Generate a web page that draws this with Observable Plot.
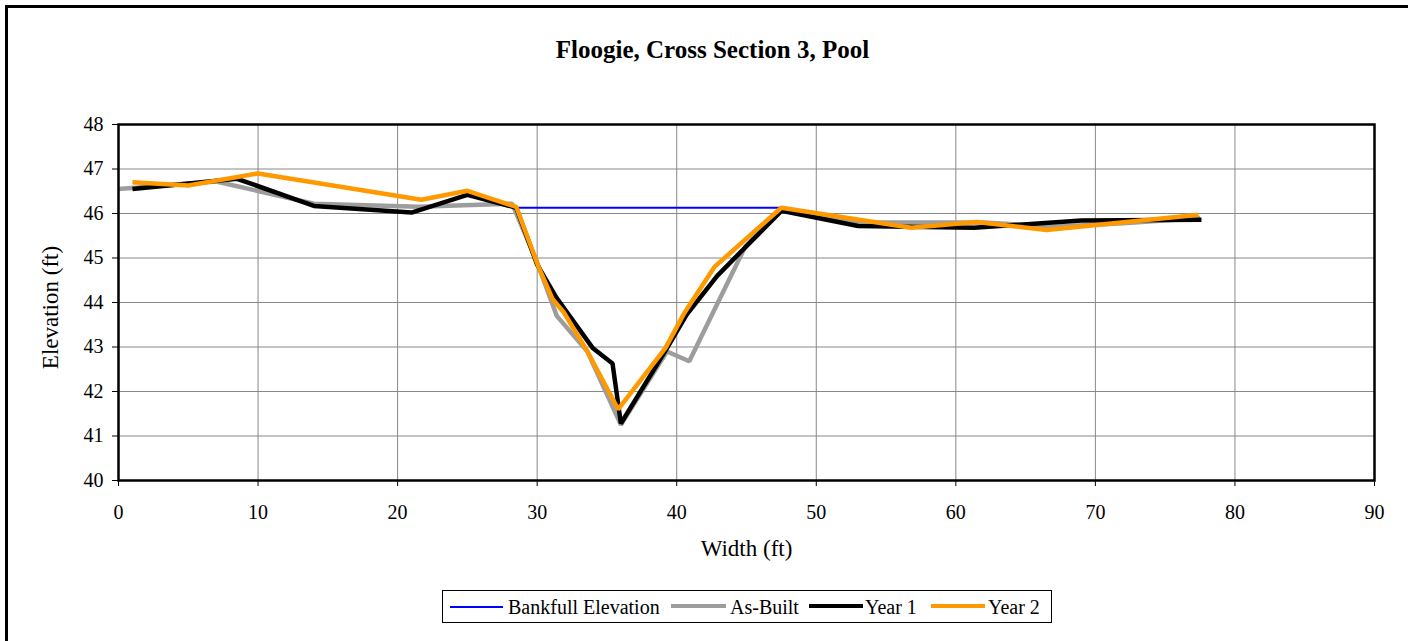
<!DOCTYPE html>
<html>
<head>
<meta charset="utf-8">
<script src="https://cdn.jsdelivr.net/npm/d3@7"></script>
<script src="https://cdn.jsdelivr.net/npm/@observablehq/plot@0.6"></script>
<style>
  html, body { margin: 0; padding: 0; background: #fff; overflow: hidden; width: 1408px; height: 641px; }
  #wrap { position: relative; width: 1408px; height: 641px; overflow: hidden;
          font-family: "Liberation Serif", "Times New Roman", serif; color: #000; background: #fff; }
  #border { position: absolute; left: 5px; top: 5px; width: 1403px; height: 636px;
            border-style: solid; border-color: #000; border-width: 3px 0 0 3px; box-sizing: border-box; }
  #cover { position: absolute; left: 1396px; top: 9px; width: 12px; height: 632px; background: #fff; z-index: 5; }
  #chart { position: absolute; left: 0; top: 0; }
  #title { position: absolute; left: 0; width: 1425px; top: 37px; text-align: center;
           font-weight: bold; font-size: 25px; line-height: 25px; white-space: nowrap; }
  #legend { position: absolute; left: 442px; top: 590px; width: 610px; height: 33px;
            border: 1.5px solid #000; box-sizing: border-box; background: #fff; }
  .sw { position: absolute; height: 0; }
  .lt { position: absolute; font-size: 20px; line-height: 20px; white-space: nowrap; }
</style>
</head>
<body>
<div id="wrap">
  <div id="border"></div>
  <div id="chart"></div>
  <div id="title"></div>
  <div id="legend"></div>
  <div id="cover"></div>
</div>
<script>
// ---- Data ----
const chartTitle = "Floogie, Cross Section 3, Pool";
const xLabel = "Width (ft)";
const yLabel = "Elevation (ft)";
const xTicks = [0, 10, 20, 30, 40, 50, 60, 70, 80, 90];
const yTicks = [40, 41, 42, 43, 44, 45, 46, 47, 48];

const seriesNames = ["Bankfull Elevation", "As-Built", "Year 1", "Year 2"];
const seriesColors = ["#0000ff", "#9d9d9d", "#000000", "#ff9900"];
const seriesWidths = [2, 4.5, 4.5, 4.5];

const bankfullX = [28.6, 47.4];
const bankfullY = [46.13, 46.13];

const asBuiltX = [0, 7, 14, 21.5, 28.2, 30, 31.4, 33.6, 36, 39.3, 40.9, 44.9, 47.5, 53, 57, 62, 67, 72, 77.5];
const asBuiltY = [46.55, 46.72, 46.22, 46.15, 46.22, 44.9, 43.7, 42.9, 41.25, 42.9, 42.68, 45.25, 46.1, 45.8, 45.8, 45.8, 45.7, 45.78, 45.9];

const year1X = [1, 8.5, 14, 21, 25, 28.5, 30, 31.4, 34, 35.4, 36, 39.2, 40.7, 42.9, 47.5, 53, 61.3, 69, 77.6];
const year1Y = [46.55, 46.78, 46.17, 46.02, 46.42, 46.13, 44.85, 44.1, 42.97, 42.63, 41.28, 42.92, 43.72, 44.6, 46.06, 45.72, 45.68, 45.84, 45.86];

const year2X = [1, 5, 10, 21.7, 25, 28.5, 30.1, 31.1, 31.9, 33.6, 35.8, 39.2, 40.5, 42.7, 47.5, 56.8, 61.5, 66.5, 77.4];
const year2Y = [46.7, 46.63, 46.9, 46.31, 46.51, 46.15, 44.8, 44.08, 43.78, 42.9, 41.6, 42.98, 43.74, 44.8, 46.13, 45.68, 45.81, 45.63, 45.97];

// ---- Build tables ----
const toRows = (xs, ys) => xs.map((x, i) => ({x, y: ys[i]}));
const seriesRows = [
  toRows(bankfullX, bankfullY),
  toRows(asBuiltX, asBuiltY),
  toRows(year1X, year1Y),
  toRows(year2X, year2Y)
];

const FONT = '"Liberation Serif", "Times New Roman", serif';

const lineMarks = seriesRows.map((rows, i) =>
  Plot.line(rows, {x: "x", y: "y", stroke: seriesColors[i], strokeWidth: seriesWidths[i],
                   strokeLinejoin: "miter", strokeLinecap: "butt"})
);

const chart = Plot.plot({
  width: 1408,
  height: 641,
  marginTop: 124,
  marginBottom: 161,
  marginLeft: 118,
  marginRight: 34,
  style: {fontFamily: FONT, fontSize: "20px", color: "#000", background: "transparent"},
  x: {domain: [0, 90]},
  y: {domain: [40, 48]},
  marks: [
    Plot.gridX(xTicks, {stroke: "#888888", strokeOpacity: 1, strokeWidth: 1}),
    Plot.gridY(yTicks, {stroke: "#888888", strokeOpacity: 1, strokeWidth: 1}),
    ...lineMarks,
    Plot.frame({stroke: "#000", strokeWidth: 2.5}),
    Plot.axisX(xTicks, {tickSize: 6, tickPadding: 18, label: null, stroke: "#000", fill: "#000", fontSize: 20}),
    Plot.axisY(yTicks, {tickSize: 6, tickPadding: 9, label: null, stroke: "#000", fill: "#000", fontSize: 20}),
    Plot.text([xLabel], {frameAnchor: "bottom", textAnchor: "middle", dy: 75, fontSize: 23, fill: "#000"}),
    Plot.text([yLabel], {frameAnchor: "left", textAnchor: "middle", dx: -68, dy: 5, rotate: -90, fontSize: 23, fill: "#000"})
  ]
});
document.getElementById("chart").appendChild(chart);
document.getElementById("title").textContent = chartTitle;

// ---- Legend ----
const legend = document.getElementById("legend");
const swatchLeft = [7, 228, 366, 488];
const swatchWidth = [53, 55, 54, 54];
const textLeft = [65, 287, 422, 545];
seriesNames.forEach((name, i) => {
  const sw = document.createElement("div");
  sw.className = "sw";
  sw.style.left = swatchLeft[i] + "px";
  sw.style.width = swatchWidth[i] + "px";
  sw.style.top = (15.5 - seriesWidths[i] / 2) + "px";
  sw.style.borderTop = seriesWidths[i] + "px solid " + seriesColors[i];
  legend.appendChild(sw);
  const t = document.createElement("div");
  t.className = "lt";
  t.style.left = textLeft[i] + "px";
  t.style.top = "5.5px";
  t.textContent = name;
  legend.appendChild(t);
});
</script>
</body>
</html>
